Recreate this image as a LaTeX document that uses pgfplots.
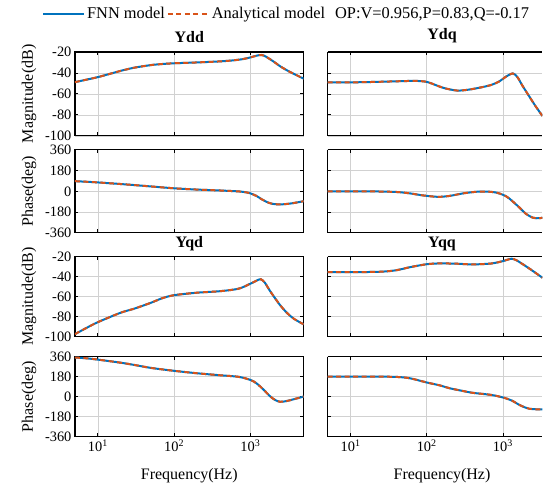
\documentclass[border=0pt]{standalone}
\usepackage{fontspec}
\setmainfont{Liberation Serif}
\usepackage{pgfplots}
\pgfplotsset{compat=1.18}
\usepackage{pgfplotstable}

\definecolor{fnn}{rgb}{0,0.447,0.741}
\definecolor{ana}{rgb}{0.85,0.325,0.098}

\pgfplotstableread{
f v
5 -48.8
7 -46.5
10 -44
15 -40.5
20 -38
30 -35
50 -32.5
70 -31.5
100 -30.8
200 -30
400 -29
600 -28
800 -26.8
1000 -25.2
1200 -23.6
1400 -22.9
1600 -24.5
2000 -29
2500 -34
3200 -38.5
4000 -42
5000 -45.5
}\yddmag

\pgfplotstableread{
f v
5 88
7 83
10 77
20 63
30 54
50 42
100 26
200 15
400 7
700 -1
900 -10
1000 -18
1200 -40
1400 -68
1700 -97
2000 -110
2500 -114
3200 -108
4000 -98
5000 -86
}\yddph

\pgfplotstableread{
f v
5 -49
10 -49
20 -48.6
40 -48
70 -47.6
100 -48.5
130 -51.5
170 -54.5
250 -56.8
350 -56
500 -54
700 -51.5
900 -48
1100 -43.5
1350 -40.5
1550 -44
1800 -52
2200 -62
2700 -72
3300 -81
}\ydqmag

\pgfplotstableread{
f v
5 0
10 0
20 -1
40 -6
60 -18
90 -36
140 -48
200 -40
300 -18
450 -4
600 -2
800 -10
1000 -30
1200 -60
1660 -143
2000 -195
2500 -230
3000 -234
3300 -229
}\ydqph

\pgfplotstableread{
f v
5 -97.5
7 -91.5
10 -85.5
20 -76
30 -72
50 -66
70 -61.5
100 -58.5
200 -56
400 -54.5
700 -52
1000 -47
1200 -44
1370 -42.5
1550 -46
1800 -54
2400 -67.5
3000 -76
3700 -82
5000 -87.7
}\yqdmag

\pgfplotstableread{
f v
5 352
7 345
10 333
20 305
30 285
50 258
100 232
200 210
400 192
700 178
1000 150
1200 120
1480 64
1800 5
2100 -30
2460 -47
3000 -40
4000 -18
5000 0
}\yqdph

\pgfplotstableread{
f v
5 -35.5
10 -35.5
25 -35
40 -33.5
60 -30.5
100 -27.5
150 -26.7
250 -27
400 -27.7
700 -26.8
1000 -24.4
1290 -22
1500 -23.5
1700 -26
2240 -32
3300 -41
}\yqqmag

\pgfplotstableread{
f v
5 180
10 180
20 180
40 177
60 165
100 127
150 100
200 75
300 50
400 34
700 15
1000 -8
1300 -35
1700 -80
2230 -110
3300 -116
}\yqqph

\pgfplotsset{
  every axis/.append style={
    xmode=log, log basis x=10,
    scale only axis, width=229pt,
    xmin=5, xmax=5000,
    axis line style={black, line width=1.2pt},
    tick style={black, line width=0.8pt},
    major tick length=3.5pt, minor tick length=2pt,
    tick align=inside,
    xmajorgrids, xminorgrids, ymajorgrids,
    major grid style={black!18, line width=0.7pt},
    minor grid style={black!35, dotted, line width=0.6pt},
    xtick={10,100,1000},
    tick label style={font=\fontsize{14.4}{16}\selectfont},
    title style={font=\fontsize{16}{18}\selectfont\bfseries},
    label style={font=\fontsize{16}{18}\selectfont},
    ylabel style={at={(axis description cs:-0.2,0.5)}, anchor=center},
    xlabel style={at={(axis description cs:0.5,-0.4875)}, anchor=center},
  },
  /pgf/number format/assume math mode=true,
}

\begin{document}
\begin{tikzpicture}
\path (0pt,0pt) rectangle (543pt,-484pt);

% Ydd magnitude
\begin{axis}[height=84pt, at={(75pt,-52pt)}, anchor=north west,
  ymin=-100, ymax=-20, ytick={-100,-80,-60,-40,-20},
  yticklabels={-100,-80,-60,-40,-20}, xticklabels={},
  title={Ydd}, ylabel={Magnitude(dB)},
  legend image code/.code={\draw[#1] (0pt,0pt) -- (41pt,0pt);},
  legend style={at={(axis description cs:-0.144,1.452)}, anchor=west,
    draw=none, fill=none, inner sep=0pt, legend columns=3,
    font=\fontsize{16.4}{18}\selectfont,
    nodes={inner sep=2pt}},
  legend cell align=left]
\addplot[color=fnn, line width=2pt, smooth, mark=none] table[x=f,y=v] {\yddmag};
\addlegendentry{FNN model}
\addplot[color=ana, line width=2pt, dash pattern=on 5pt off 3.5pt, smooth, mark=none] table[x=f,y=v] {\yddmag};
\addlegendentry{Analytical model}
\addlegendimage{empty legend}
\addlegendentry{\hspace{6pt}OP:V=0.956,P=0.83,Q=-0.17}
\end{axis}

% Ydd phase
\begin{axis}[height=83pt, at={(75pt,-150pt)}, anchor=north west,
  ymin=-360, ymax=360, ytick={-360,-180,0,180,360},
  yticklabels={-360,-180,0,180,360}, xticklabels={},
  ylabel={Phase(deg)}]
\addplot[color=fnn, line width=2pt, smooth, mark=none] table[x=f,y=v] {\yddph};
\addplot[color=ana, line width=2pt, dash pattern=on 5pt off 3.5pt, smooth, mark=none] table[x=f,y=v] {\yddph};
\end{axis}

% Yqd magnitude
\begin{axis}[height=80pt, at={(75pt,-257pt)}, anchor=north west,
  ymin=-100, ymax=-20, ytick={-100,-80,-60,-40,-20},
  yticklabels={-100,-80,-60,-40,-20}, xticklabels={},
  title={Yqd}, title style={yshift=-4pt}, ylabel={Magnitude(dB)}]
\addplot[color=fnn, line width=2pt, smooth, mark=none] table[x=f,y=v] {\yqdmag};
\addplot[color=ana, line width=2pt, dash pattern=on 5pt off 3.5pt, smooth, mark=none] table[x=f,y=v] {\yqdmag};
\end{axis}

% Yqd phase
\begin{axis}[height=80pt, at={(75pt,-357pt)}, anchor=north west,
  ymin=-360, ymax=360, ytick={-360,-180,0,180,360},
  yticklabels={-360,-180,0,180,360},
  xticklabels={10\textsuperscript{1},10\textsuperscript{2},10\textsuperscript{3}},
  xlabel={Frequency(Hz)}, ylabel={Phase(deg)}]
\addplot[color=fnn, line width=2pt, smooth, mark=none] table[x=f,y=v] {\yqdph};
\addplot[color=ana, line width=2pt, dash pattern=on 5pt off 3.5pt, smooth, mark=none] table[x=f,y=v] {\yqdph};
\end{axis}

% Ydq magnitude (right column, cut at the picture edge)
\begin{axis}[height=84pt, width=215pt, xmax=3300, at={(328pt,-52pt)}, anchor=north west,
  axis y line*=left,
  ymin=-100, ymax=-20, ytick={-100,-80,-60,-40,-20}, xticklabels={}, yticklabels={},
  title={Ydq}, title style={xshift=7pt}]
\addplot[color=fnn, line width=2pt, smooth, mark=none] table[x=f,y=v] {\ydqmag};
\addplot[color=ana, line width=2pt, dash pattern=on 5pt off 3.5pt, smooth, mark=none] table[x=f,y=v] {\ydqmag};
\end{axis}

% Ydq phase
\begin{axis}[height=83pt, width=215pt, xmax=3300, at={(328pt,-150pt)}, anchor=north west,
  axis y line*=left,
  ymin=-360, ymax=360, ytick={-360,-180,0,180,360}, xticklabels={}, yticklabels={}]
\addplot[color=fnn, line width=2pt, smooth, mark=none] table[x=f,y=v] {\ydqph};
\addplot[color=ana, line width=2pt, dash pattern=on 5pt off 3.5pt, smooth, mark=none] table[x=f,y=v] {\ydqph};
\end{axis}

% Yqq magnitude
\begin{axis}[height=80pt, width=215pt, xmax=3300, at={(328pt,-257pt)}, anchor=north west,
  axis y line*=left,
  ymin=-100, ymax=-20, ytick={-100,-80,-60,-40,-20}, xticklabels={}, yticklabels={},
  title={Yqq}, title style={xshift=7pt, yshift=-4pt}]
\addplot[color=fnn, line width=2pt, smooth, mark=none] table[x=f,y=v] {\yqqmag};
\addplot[color=ana, line width=2pt, dash pattern=on 5pt off 3.5pt, smooth, mark=none] table[x=f,y=v] {\yqqmag};
\end{axis}

% Yqq phase
\begin{axis}[height=80pt, width=215pt, xmax=3300, at={(328pt,-357pt)}, anchor=north west,
  axis y line*=left,
  ymin=-360, ymax=360, ytick={-360,-180,0,180,360}, yticklabels={},
  xticklabels={10\textsuperscript{1},10\textsuperscript{2},10\textsuperscript{3}},
  xlabel={Frequency(Hz)}, xlabel style={xshift=7pt}]
\addplot[color=fnn, line width=2pt, smooth, mark=none] table[x=f,y=v] {\yqqph};
\addplot[color=ana, line width=2pt, dash pattern=on 5pt off 3.5pt, smooth, mark=none] table[x=f,y=v] {\yqqph};
\end{axis}
\end{tikzpicture}
\end{document}
